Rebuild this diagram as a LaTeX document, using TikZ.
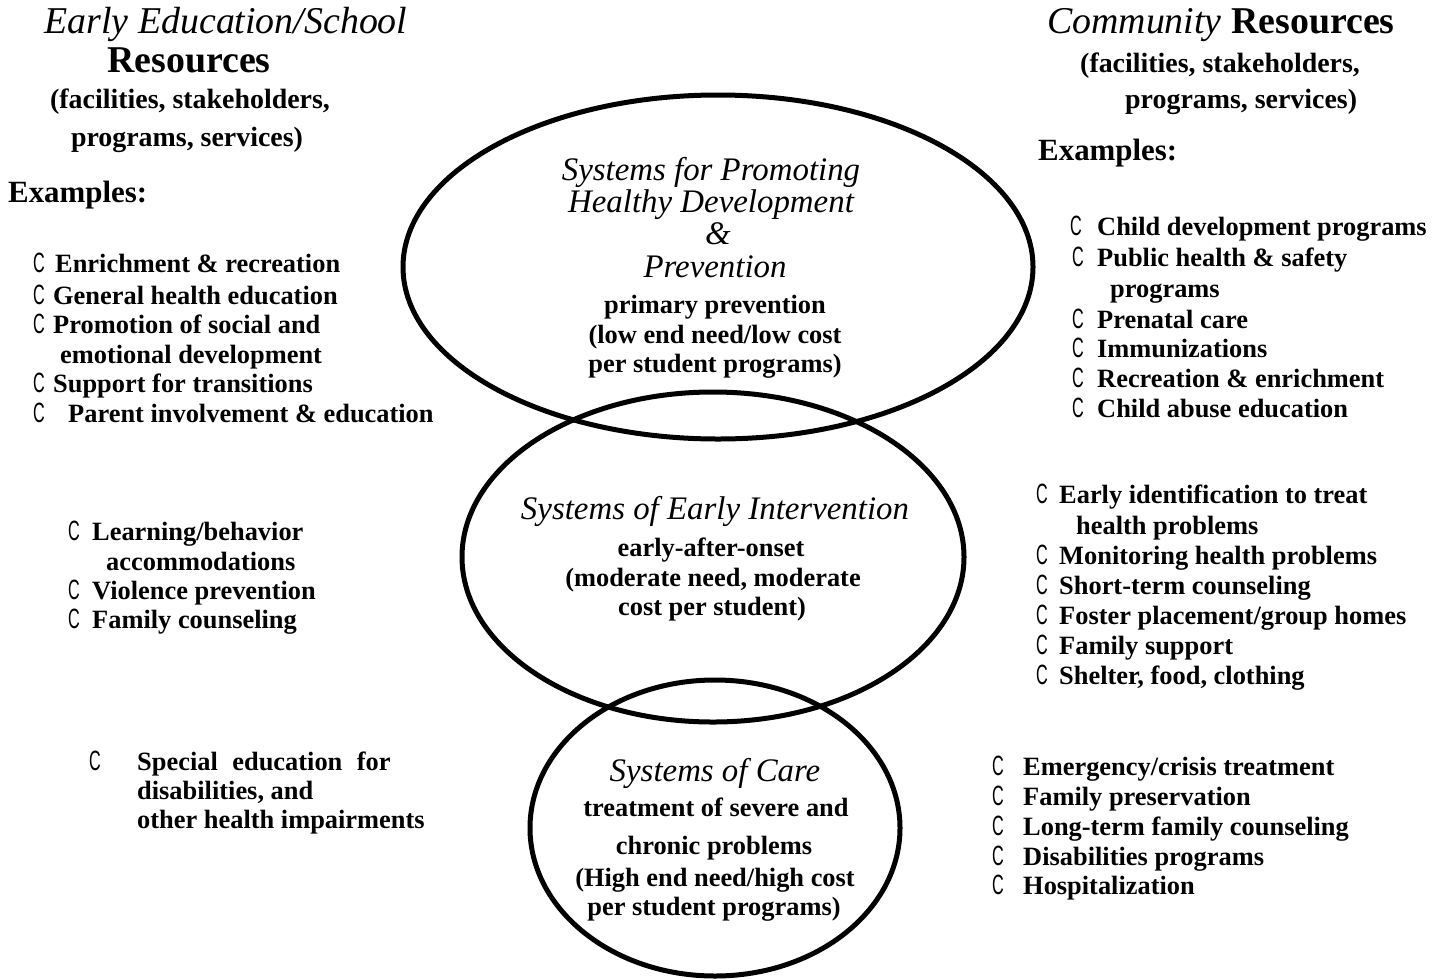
\documentclass[tikz,border=0pt]{standalone}
\usepackage{fontspec}
\usepackage{graphicx}
\setmainfont{Liberation Serif}
\newfontfamily\bulletfont{Liberation Sans}
\usetikzlibrary{shapes.geometric}
\newcommand\bulC{\scalebox{0.58}[1]{C}}
\tikzset{
  ell/.style={draw, ellipse, line width=5bp, inner sep=0pt},
  itm/.style={anchor=base west, inner sep=0pt, font=\fontsize{26.5}{29}\selectfont\bfseries},
  bul/.style={anchor=base west, inner sep=0pt, font=\bulletfont\fontsize{28}{28}\selectfont},
  ctitle/.style={anchor=base, inner sep=0pt, font=\fontsize{33}{33}\selectfont\itshape},
  ctext/.style={anchor=base, inner sep=0pt, font=\fontsize{26.5}{29}\selectfont\bfseries},
  hbig/.style={inner sep=0pt, font=\fontsize{38}{38}\selectfont},
  hsub/.style={inner sep=0pt, font=\fontsize{28}{28}\selectfont\bfseries},
  hex/.style={anchor=base west, inner sep=0pt, font=\fontsize{31}{31}\selectfont\bfseries}
}
\begin{document}
\begin{tikzpicture}[x=1bp,y=-1bp]
\useasboundingbox (0,0) rectangle (1443,979);
% ellipses
\node[ell, minimum width=630bp, minimum height=344bp] (top) at (718,267) {};
\node[ell, minimum width=502bp, minimum height=330bp] (mid) at (713,557) {};
\node[ell, minimum width=370bp, minimum height=296bp] (bot) at (715,828) {};

% top ellipse text
\node[ctitle] (t1) at (711,180) {Systems for Promoting};
\node[ctitle] (t2) at (711,212) {Healthy Development};
\node[ctitle] (t3) at (718,244) {\&};
\node[ctitle] (t4) at (715,277) {Prevention};
\node[ctext] (t5) at (715,313) {primary prevention};
\node[ctext] (t6) at (715,343) {(low end need/low cost};
\node[ctext] (t7) at (715,372) {per student programs)};

% middle ellipse text
\node[ctitle] (m1) at (715,519) {Systems of Early Intervention};
\node[ctext] (m2) at (711,556) {early-after-onset};
\node[ctext] (m3) at (713,586) {(moderate need, moderate};
\node[ctext] (m4) at (712,615) {cost per student)};

% bottom ellipse text
\node[ctitle] (c1) at (715,781) {Systems of Care};
\node[ctext] (c2) at (716,816) {treatment of severe and};
\node[ctext] (c3) at (714,854) {chronic problems};
\node[ctext] (c4) at (715,886) {(High end need/high cost};
\node[ctext] (c5) at (714,915) {per student programs)};

% left headers
\node[hbig, anchor=base, font=\fontsize{38}{38}\selectfont\itshape] (lh1) at (226,33) {Early Education/School};
\node[hbig, anchor=base, font=\fontsize{38}{38}\selectfont\bfseries] (lh2) at (189,72) {Resources};
\node[hsub, anchor=base] (lh3) at (190,108) {(facilities, stakeholders,};
\node[hsub, anchor=base] (lh4) at (187,146) {programs, services)};
\node[hex] (lex) at (8,202) {Examples:};

% right headers
\node[hbig, anchor=base west] (rh1) at (1047,33) {\textit{Community} \textbf{Resources}};
\node[hsub, anchor=base west] (rh2) at (1080,72) {(facilities, stakeholders,};
\node[hsub, anchor=base west] (rh3) at (1125,108) {programs, services)};
\node[hex] (rex) at (1038,160) {Examples:};

% left list 1
\node[bul] (lb1) at (33,272) {\bulC};
\node[itm] (la1) at (55,272) {Enrichment \& recreation};
\node[bul] (lb2) at (33,304) {\bulC};
\node[itm] (la2) at (53,304) {General health education};
\node[bul] (lb3) at (33,333) {\bulC};
\node[itm] (la3) at (53,333) {Promotion of social and};
\node[itm] (la3b) at (60,363) {emotional development};
\node[bul] (lb4) at (33,392) {\bulC};
\node[itm] (la4) at (53,392) {Support for transitions};
\node[bul] (lb5) at (33,422) {\bulC};
\node[itm] (la5) at (68,422) {Parent involvement \& education};

% left list 2
\node[bul] (lc1) at (68,540) {\bulC};
\node[itm] (ld1) at (92,540) {Learning/behavior};
\node[itm] (ld1b) at (106,570) {accommodations};
\node[bul] (lc2) at (68,599) {\bulC};
\node[itm] (ld2) at (92,599) {Violence prevention};
\node[bul] (lc3) at (68,628) {\bulC};
\node[itm] (ld3) at (92,628) {Family counseling};

% left list 3
\node[bul] (le1) at (89,770) {\bulC};
\node[itm] (lf1) at (137,770) {Special\hspace{0.3em} education\hspace{0.3em} for};
\node[itm] (lf1b) at (137,799) {disabilities, and};
\node[itm] (lf1c) at (137,828) {other health impairments};

% right list 1
\node[bul] (rb1) at (1070,235) {\bulC};
\node[itm] (ra1) at (1097,235) {Child development programs};
\node[bul] (rb2) at (1072,266) {\bulC};
\node[itm] (ra2) at (1097,266) {Public health \& safety};
\node[itm] (ra2b) at (1110,297) {programs};
\node[bul] (rb3) at (1072,328) {\bulC};
\node[itm] (ra3) at (1097,328) {Prenatal care};
\node[bul] (rb4) at (1072,357) {\bulC};
\node[itm] (ra4) at (1097,357) {Immunizations};
\node[bul] (rb5) at (1072,387) {\bulC};
\node[itm] (ra5) at (1097,387) {Recreation \& enrichment};
\node[bul] (rb6) at (1072,417) {\bulC};
\node[itm] (ra6) at (1097,417) {Child abuse education};

% right list 2
\node[bul] (rc1) at (1036,503) {\bulC};
\node[itm] (rd1) at (1059,503) {Early identification to treat};
\node[itm] (rd1b) at (1076,534) {health problems};
\node[bul] (rc2) at (1036,564) {\bulC};
\node[itm] (rd2) at (1059,564) {Monitoring health problems};
\node[bul] (rc3) at (1036,594) {\bulC};
\node[itm] (rd3) at (1059,594) {Short-term counseling};
\node[bul] (rc4) at (1036,624) {\bulC};
\node[itm] (rd4) at (1059,624) {Foster placement/group homes};
\node[bul] (rc5) at (1036,654) {\bulC};
\node[itm] (rd5) at (1059,654) {Family support};
\node[bul] (rc6) at (1036,684) {\bulC};
\node[itm] (rd6) at (1059,684) {Shelter, food, clothing};

% right list 3
\node[bul] (re1) at (992,775) {\bulC};
\node[itm] (rf1) at (1023,775) {Emergency/crisis treatment};
\node[bul] (re2) at (992,805) {\bulC};
\node[itm] (rf2) at (1023,805) {Family preservation};
\node[bul] (re3) at (992,835) {\bulC};
\node[itm] (rf3) at (1023,835) {Long-term family counseling};
\node[bul] (re4) at (992,865) {\bulC};
\node[itm] (rf4) at (1023,865) {Disabilities programs};
\node[bul] (re5) at (992,894) {\bulC};
\node[itm] (rf5) at (1023,894) {Hospitalization};
\end{tikzpicture}
\end{document}
